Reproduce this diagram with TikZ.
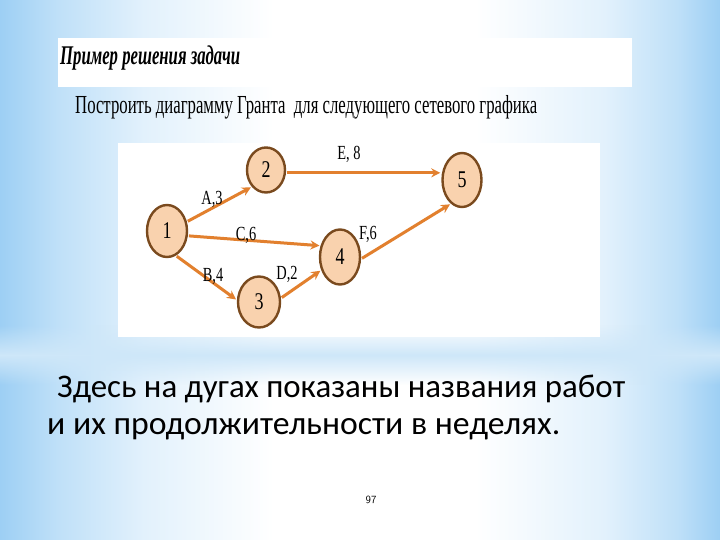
\documentclass[tikz,border=0pt]{standalone}
\usepackage{fontspec}
\setmainfont{Liberation Serif}
\newfontfamily\bodyfont{Carlito}
\usetikzlibrary{shapes.geometric,arrows.meta,fadings}
\definecolor{bgblue}{HTML}{9DCFF4}
\definecolor{bgmid}{HTML}{BFE0F8}
\definecolor{bgpale}{HTML}{E2F1FC}
\definecolor{nodefill}{HTML}{F9D2AE}
\definecolor{nodeborder}{HTML}{7A4A1E}
\definecolor{arrowc}{HTML}{E2802E}
\pgfdeclarehorizontalshading{bgh}{100bp}{color(0bp)=(bgblue); color(25bp)=(bgblue); color(29bp)=(bgmid); color(35bp)=(bgpale); color(44bp)=(white); color(58bp)=(white); color(67bp)=(bgpale); color(72bp)=(bgmid); color(75bp)=(bgblue); color(100bp)=(bgblue)}
\tikzfading[name=bandfade, top color=transparent!100, bottom color=transparent!100, middle color=transparent!0]
\begin{document}
\begin{tikzpicture}[x=1pt,y=-1pt,
  evt/.style={ellipse, draw=nodeborder, line width=2.4pt, fill=nodefill, inner sep=0pt, font=\fontsize{24}{24}\selectfont},
  arr/.style={draw=arrowc, line width=3pt, -{Stealth[length=9pt,width=9pt]}, shorten >=1pt, shorten <=1pt},
  lbl/.style={font=\fontsize{20}{20}\selectfont, inner sep=0pt}]
\useasboundingbox (0,0) rectangle (720,540);
\shade[shading=bgh] (0,0) rectangle (720,540);
\fill[bgblue!50, path fading=bandfade] (0,325) rectangle (720,385);
\fill[white] (58,38) rectangle (632,87);
\fill[white] (118,143) rectangle (600,337);
\node[anchor=base west, inner sep=0pt] (title) at (60,65) {\resizebox{180pt}{\height}{\fontsize{27}{30}\selectfont\bfseries\itshape Пример решения задачи}};
\node[anchor=base west, inner sep=0pt] (sub) at (75,114) {\resizebox{462pt}{\height}{\fontsize{26}{30}\selectfont Построить диаграмму Гранта\ \ для следующего сетевого графика}};
\node[evt, minimum width=40pt, minimum height=52pt] (n1) at (167,231) {\scalebox{0.75}[1]{1}};
\node[evt, minimum width=38pt, minimum height=45pt] (n2) at (266,170) {\scalebox{0.75}[1]{2}};
\node[evt, minimum width=42pt, minimum height=51pt] (n3) at (259,302) {\scalebox{0.75}[1]{3}};
\node[evt, minimum width=40pt, minimum height=55pt] (n4) at (340,257) {\scalebox{0.75}[1]{4}};
\node[evt, minimum width=39pt, minimum height=54pt] (n5) at (462,180) {\scalebox{0.75}[1]{5}};
\draw[arr] (n1.25) -- (n2.230);
\draw[arr] (n1.-13) -- (n4.150);
\draw[arr] (n1.-70) -- (n3.175);
\draw[arr] (n3.10) -- (n4.215);
\draw[arr] (n2.-8) -- (n2.-8 -| n5.west);
\draw[arr] (n4.-5) -- (n5.245);
\node[lbl] (la) at (212,199) {\scalebox{0.72}[1]{A,3}};
\node[lbl] (lc) at (246,235) {\scalebox{0.72}[1]{C,6}};
\node[lbl] (lb) at (213,276) {\scalebox{0.72}[1]{B,4}};
\node[lbl] (ld) at (287,274) {\scalebox{0.72}[1]{D,2}};
\node[lbl] (le) at (349,154) {\scalebox{0.72}[1]{E, 8}};
\node[lbl] (lf) at (368,234) {\scalebox{0.72}[1]{F,6}};
\node[anchor=base west, inner sep=0pt] (body1) at (57,397) {\resizebox{568pt}{\height}{\bodyfont\fontsize{33}{36}\selectfont Здесь на дугах показаны названия работ}};
\node[anchor=base west, inner sep=0pt] (body2) at (47,434) {\resizebox{513pt}{\height}{\bodyfont\fontsize{33}{36}\selectfont и их продолжительности в неделях.}};
\node[inner sep=0pt, font=\sffamily\fontsize{11}{12}\selectfont] (page) at (371,500) {97};
\end{tikzpicture}
\end{document}
